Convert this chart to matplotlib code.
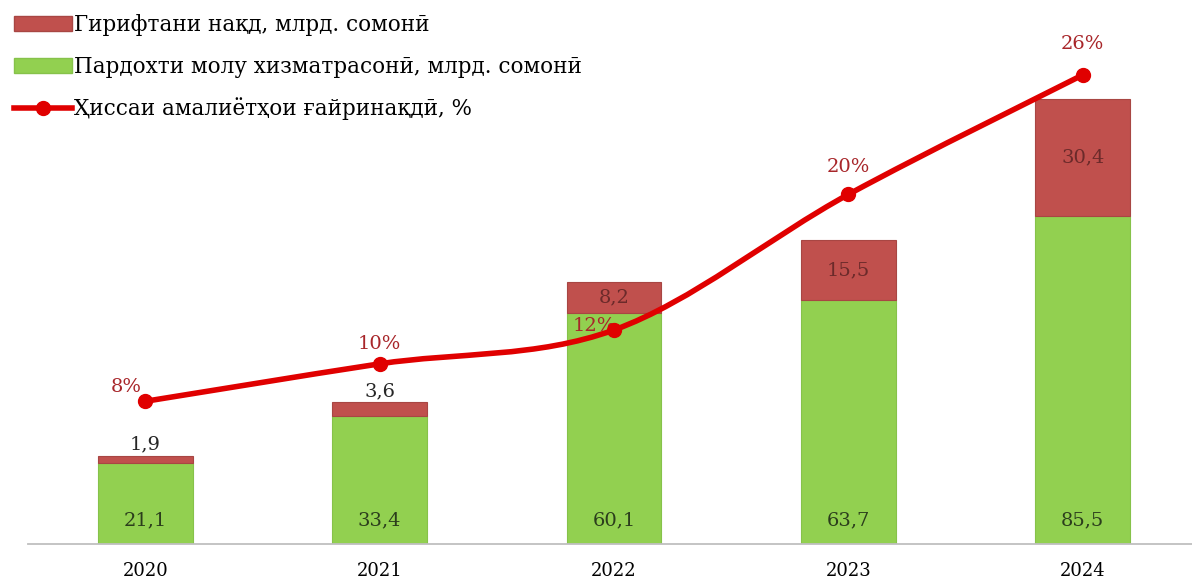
import numpy as np
import matplotlib
matplotlib.use('Agg')
import matplotlib.pyplot as plt
from matplotlib.path import Path
from matplotlib.patches import PathPatch, Patch
from matplotlib.lines import Line2D

plt.rcParams['font.family'] = ['DejaVu Serif']

# данные
years = ['2020', '2021', '2022', '2023', '2024']
pardokht = [21.1, 33.4, 60.1, 63.7, 85.5]     # Пардохти молу хизматрасонӣ
giriftan = [1.9, 3.6, 8.2, 15.5, 30.4]        # Гирифтани нақд
hissa = [8.0, 10.1, 12.0, 19.6, 26.3]         # Ҳиссаи амалиётҳои ғайринақдӣ, %
hissa_lbl = ['8%', '10%', '12%', '20%', '26%']

green = '#92d050'
red = '#c0504d'
line_c = '#e00000'

fig = plt.figure(figsize=(11.92, 5.83), dpi=100)
ax = fig.add_axes([28/1192, 39/583, 1172/1192, 544/583])
ax2 = ax.twinx()

x = np.arange(len(years))
w = 0.405
ax.bar(x, pardokht, w, color=green, edgecolor='#86c24a', linewidth=0.8)
ax.bar(x, giriftan, w, bottom=pardokht, color=red, edgecolor='#a84643', linewidth=0.8)

ax.set_xlim(-0.5, 4.5)
ax.set_ylim(0, 141.8)
ax2.set_ylim(0, 30.5)

# подписи
for i in range(len(x)):
    ax.annotate(f'{pardokht[i]}'.replace('.', ','), (x[i], 0), xytext=(0, 17),
                textcoords='offset points', ha='center', va='center',
                fontsize=14, color='#2b3d1c')
    top = pardokht[i] + giriftan[i]
    if giriftan[i] < 5:
        ax.annotate(f'{giriftan[i]}'.replace('.', ','), (x[i], top), xytext=(0, 8),
                    textcoords='offset points', ha='center', va='center',
                    fontsize=14, color='#262626')
    else:
        ax.text(x[i], pardokht[i] + giriftan[i] / 2, f'{giriftan[i]}'.replace('.', ','),
                ha='center', va='center', fontsize=14, color='#6b2a2a')

# сглаженная линия
pts = np.column_stack([x, hissa]).astype(float)
verts = [pts[0]]
codes = [Path.MOVETO]
for i in range(len(pts) - 1):
    p0 = pts[max(i - 1, 0)]
    p1 = pts[i]
    p2 = pts[i + 1]
    p3 = pts[min(i + 2, len(pts) - 1)]
    verts += [p1 + (p2 - p0) / 6, p2 - (p3 - p1) / 6, p2]
    codes += [Path.CURVE4] * 3
ax2.add_patch(PathPatch(Path(verts, codes), facecolor='none', edgecolor=line_c,
                        linewidth=4, capstyle='round', zorder=3))
ax2.plot(x, hissa, 'o', color=line_c, markersize=10, zorder=4)

offs = [(-14, 10), (0, 14), (-14, 3), (0, 20), (0, 22)]
for i in range(len(x)):
    ax2.annotate(hissa_lbl[i], (x[i], hissa[i]), xytext=offs[i],
                 textcoords='offset points', ha='center', va='center',
                 fontsize=14, color='#a8262a')

for a in (ax, ax2):
    for s in ['top', 'right', 'left']:
        a.spines[s].set_visible(False)
    a.set_yticks([])
ax2.spines['bottom'].set_visible(False)
ax.spines['bottom'].set_color('#bfbfbf')
ax.spines['bottom'].set_linewidth(1.3)
ax.set_xticks(x)
ax.set_xticklabels(years, fontsize=13)
ax.tick_params(axis='x', length=0, pad=13)

handles = [Patch(facecolor=red, edgecolor='#a84643'),
           Patch(facecolor=green, edgecolor='#86c24a'),
           Line2D([0], [0], color=line_c, linewidth=4, marker='o', markersize=10)]
labels = ['Гирифтани нақд, млрд. сомонӣ',
          'Пардохти молу хизматрасонӣ, млрд. сомонӣ',
          'Ҳиссаи амалиётҳои ғайринақдӣ, %']
fig.legend(handles, labels, loc='upper left', bbox_to_anchor=(0.0, 1.0),
           frameon=False, fontsize=15.5, handlelength=2.7, handleheight=0.7,
           handletextpad=0.1, labelspacing=0.92, borderpad=0.3, borderaxespad=0.35)

fig.savefig('out.png', dpi=100)
